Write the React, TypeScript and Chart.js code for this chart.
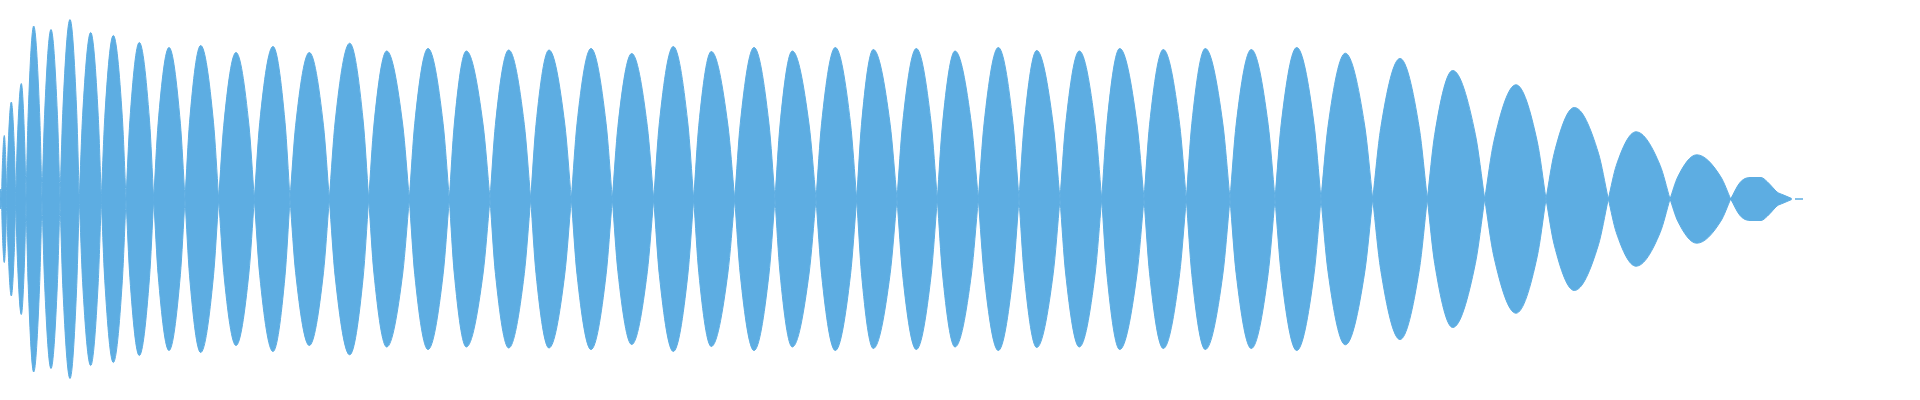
import React, { useEffect, useRef } from "react";
import { Chart, registerables } from "chart.js";

Chart.register(...registerables);

// Waveform envelope (time in ms, amplitude in arbitrary units)
// Zero crossings (lobe boundaries)
const zeroX = [
  0, 1.5, 6.7, 15.7, 26, 42, 60, 79.3, 101.3, 126, 153.7, 185, 218.7, 254.3, 290,
  329.3, 368.7, 409.3, 449.3, 490, 530.7, 571.3, 612.3, 653.7, 693.7, 734.7, 775,
  816, 856.7, 897, 937.3, 978.3, 1019, 1060, 1101.7, 1144, 1186.3, 1230, 1275,
  1321, 1372.7, 1427.3, 1484.7, 1546, 1608.3, 1670, 1730.7,
];

// Lobe peaks
const peakX = [
  0.8, 4.3, 11.3, 21.3, 33.7, 51, 70, 90.7, 113.3, 139.3, 169, 200.7, 236, 273,
  309.3, 349.7, 386.7, 428, 466.3, 508.7, 549, 591, 631.7, 673.3, 711.3, 754,
  792.3, 835.3, 873.3, 916.3, 955, 998.3, 1036.7, 1079.3, 1119.7, 1163.3, 1205.3,
  1251.3, 1296.7, 1345.3, 1400, 1452.7, 1516, 1574.3, 1636, 1696.7,
];

const peakAmp = [
  10, 63.5, 97, 115.5, 173, 169.5, 179.5, 166.5, 163.5, 156.5, 151.5, 153.5, 146.5,
  152.5, 146.5, 155.8, 148, 150.5, 148, 149, 149, 150.5, 145.5, 152.5, 147.5, 151.5,
  148, 151.5, 149.5, 150.5, 148, 151.5, 148.5, 148, 150.5, 149.5, 150.5, 149.5,
  151.5, 145.8, 140.5, 128.5, 114.2, 91.5, 67.2, 44.2,
];

// Where each lobe crosses half of its peak height (rising / falling side)
const halfRiseX = [
  0.23, 2.31, 8.03, 17.32, 28.23, 44.61, 62.9, 82.61, 104.78, 129.86, 158.14,
  189.55, 223.72, 259.72, 295.6, 335.22, 373.92, 414.72, 454.23, 495.42, 536.01,
  577.01, 617.93, 659.38, 698.8, 740.3, 780.02, 821.6, 861.51, 902.6, 942.43,
  984.1, 1024.13, 1065.6, 1106.92, 1149.6, 1191.81, 1236.18, 1281.29, 1328.05,
  1380.62, 1434.67, 1493.78, 1554.21, 1616.33, 1677.74,
];

const halfFallX = [
  1.3, 6.0, 14.42, 24.64, 39.59, 57.39, 76.6, 98.23, 122.32, 149.52, 180.36,
  213.48, 248.99, 285.07, 323.5, 363.19, 402.75, 443.12, 483.13, 524.32, 564.83,
  606.12, 647.32, 687.78, 727.91, 768.91, 809.13, 850.49, 890.13, 931.21, 971.54,
  1013, 1053.24, 1095.2, 1136.95, 1179.63, 1222.84, 1268.13, 1313.95, 1364.75,
  1419.38, 1475.42, 1537.3, 1598.44, 1660.14, 1720.84,
];

// Final decaying lobe
const tailX = [1730.7, 1740, 1750, 1761, 1767, 1773, 1777, 1783, 1791.7];
const tailAmp = [0, 16.5, 21.5, 21.5, 17.5, 11.2, 7, 4.2, 0.5];

// Near-silent stub after the last lobe
const stubX = [1795, 1803];
const stubAmp = [0, 0];

const COLOR = "#5DADE2";

function buildEnvelope(sign: number) {
  const pts: { x: number; y: number | null }[] = [];
  for (let i = 0; i < peakX.length; i++) {
    pts.push({ x: zeroX[i], y: 0 });
    pts.push({ x: halfRiseX[i], y: (sign * peakAmp[i]) / 2 });
    pts.push({ x: peakX[i], y: sign * peakAmp[i] });
    pts.push({ x: halfFallX[i], y: (sign * peakAmp[i]) / 2 });
    pts.push({ x: zeroX[i + 1], y: 0 });
    pts.push({ x: zeroX[i + 1], y: null });
  }
  tailX.forEach((x, i) => pts.push({ x, y: sign * tailAmp[i] }));
  pts.push({ x: (tailX[tailX.length - 1] + stubX[0]) / 2, y: null });
  stubX.forEach((x, i) => pts.push({ x, y: sign * stubAmp[i] }));
  return pts;
}

export default function App() {
  const ref = useRef<HTMLCanvasElement | null>(null);

  useEffect(() => {
    if (!ref.current) return;
    const ds = (sign: number) => ({
      data: buildEnvelope(sign),
      borderColor: COLOR,
      backgroundColor: COLOR,
      borderWidth: 1,
      pointRadius: 0,
      cubicInterpolationMode: "monotone",
      tension: 0.4,
      fill: "origin",
      spanGaps: false,
    });
    const chart = new Chart(ref.current, {
      type: "line",
      data: { datasets: [ds(1), ds(-1)] as any },
      options: {
        animation: false,
        responsive: true,
        maintainAspectRatio: false,
        layout: { padding: 0 },
        plugins: { legend: { display: false }, tooltip: { enabled: false } },
        scales: {
          x: { type: "linear", min: 0, max: 1920, display: false },
          y: { type: "linear", min: -201, max: 199, display: false },
        },
      },
    });
    return () => chart.destroy();
  }, []);

  return (
    <div style={{ position: "absolute", left: 0, top: 0, width: 1920, height: 400 }}>
      <canvas ref={ref} />
    </div>
  );
}
